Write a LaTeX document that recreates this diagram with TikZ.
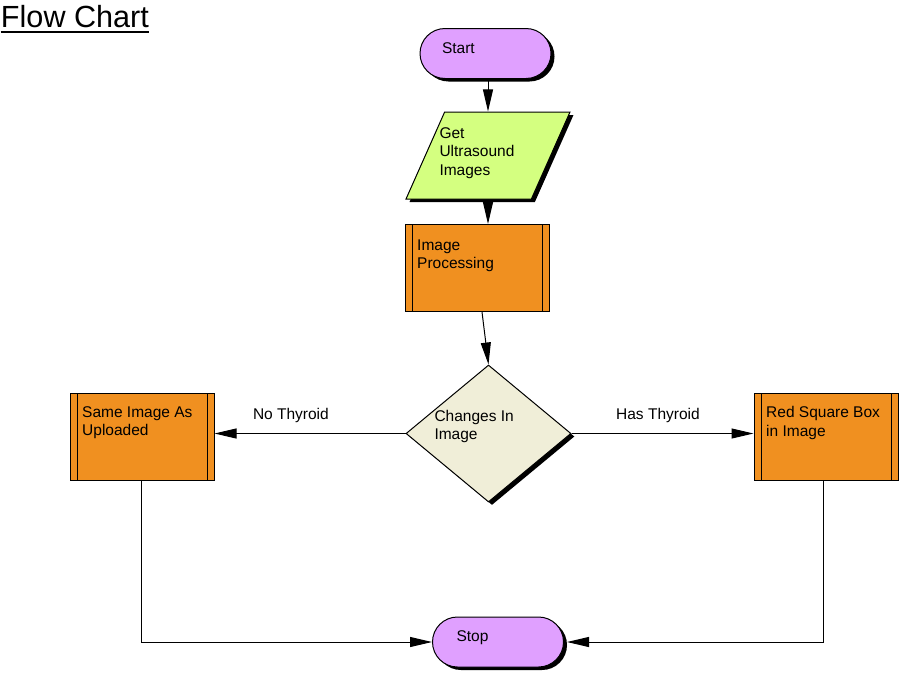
\documentclass[tikz,border=0pt]{standalone}
\usepackage{fontspec}
\setmainfont{Liberation Sans}
\usetikzlibrary{arrows.meta, positioning, shapes.geometric, shapes.misc, shadows}

\definecolor{termcol}{RGB}{224,160,255}
\definecolor{iocol}{RGB}{212,255,128}
\definecolor{proccol}{RGB}{240,144,32}
\definecolor{deccol}{RGB}{240,238,216}

\tikzset{
  dropsh/.style={drop shadow={shadow xshift=3.5pt, shadow yshift=-3pt, opacity=1, fill=black}},
  terminal/.style={draw, rounded rectangle, fill=termcol, minimum width=131pt, minimum height=50pt, inner sep=0pt, dropsh},
  inout/.style={draw, trapezium, trapezium left angle=66, trapezium right angle=114, trapezium stretches=true,
                fill=iocol, minimum width=164pt, minimum height=87pt, inner sep=1pt, dropsh},
  process/.style={draw, rectangle, fill=proccol, minimum width=144pt, minimum height=87pt, inner sep=0pt,
                  path picture={
                    \draw ([xshift=7pt]path picture bounding box.north west) -- ([xshift=7pt]path picture bounding box.south west);
                    \draw ([xshift=-7pt]path picture bounding box.north east) -- ([xshift=-7pt]path picture bounding box.south east);
                  }},
  decision/.style={draw, diamond, fill=deccol, minimum width=165pt, minimum height=137pt, inner sep=0pt, dropsh},
  txt/.style={anchor=north west, inner sep=0pt, align=left},
  arr/.style={-{Triangle[length=22pt, width=10pt]}}
}

\begin{document}
\begin{tikzpicture}[x=1pt, y=-1pt, line width=1pt, font=\fontsize{15.5}{18.5}\selectfont]

\useasboundingbox (0,0) rectangle (899,672);

% title
\node [anchor=base west, inner sep=0pt, font=\fontsize{30.6}{36}\selectfont] (title) at (0.5,27) {Flow Chart};
\draw [line width=2pt] ([yshift=-5pt]title.base west) -- ([yshift=-5pt]title.base east);

% shapes
\node [terminal] (start) at (485.5,53.5) {};
\node [inout]    (get)   at (488,155.5)  {};
\node [process]  (proc)  at (477,268)    {};
\node [decision] (dec)   at (488.5,433.5) {};
\node [process]  (same)  at (142,436.5)  {};
\node [process]  (red)   at (826,436.5)  {};
\node [terminal] (stop)  at (498,642)    {};

% texts
\node [txt] (tstart) at (441.5,42.5) {Start};
\node [txt] (tget)   at (439,127)    {Get\\Ultrasound\\Images};
\node [txt] (tproc)  at (416.7,239)  {Image\\Processing};
\node [txt] (tdec)   at (434,409.4)  {Changes  In\\Image};
\node [txt] (tsame)  at (81.7,406)   {Same Image As\\Uploaded};
\node [txt] (tred)   at (765.7,406)  {Red Square Box\\in Image};
\node [txt] (tstop)  at (456,630.4)  {Stop};

% connectors
\draw [arr] (get.north |- start.south) -- (get.north);
\draw [arr] (get.south) -- (get.south |- proc.north);
\draw [arr] ([xshift=5pt]proc.south) -- (dec.north);
\draw [arr] (dec.west) -- node [pos=0.6, above=10pt, inner sep=0pt] (lno) {No Thyroid} (dec.west -| same.east);
\draw [arr] (dec.east) -- node [pos=0.475, above=10pt, inner sep=0pt] (lhas) {Has Thyroid} (dec.east -| red.west);
\draw [arr] ([xshift=-1pt]same.south) |- (stop.west);
\draw [arr] ([xshift=-2.5pt]red.south) |- ([xshift=3pt]stop.east);

\end{tikzpicture}
\end{document}
